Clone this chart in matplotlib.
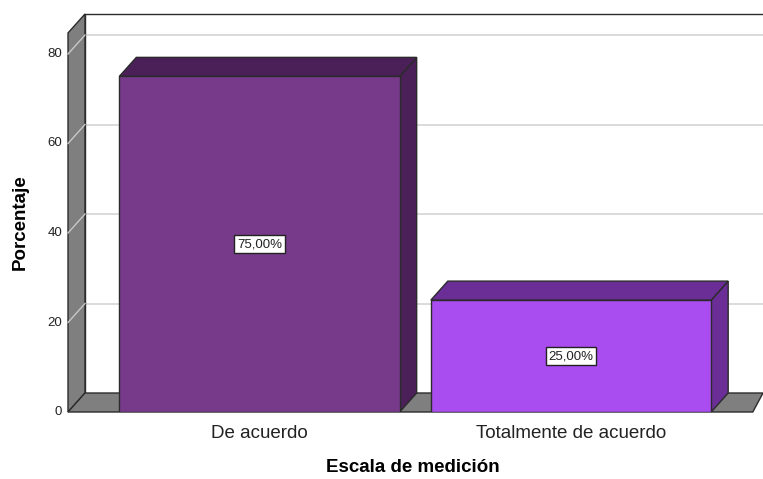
import matplotlib.pyplot as plt
from matplotlib.patches import Polygon

# datos
categorias = ["De acuerdo", "Totalmente de acuerdo"]
porcentajes = [75.0, 25.0]
etiquetas = ["75,00%", "25,00%"]
yticks = [0, 20, 40, 60, 80]
color_frente = ["#773a8a", "#a94cf0"]
color_lado = ["#4b2058", "#6b2d96"]

plt.rcParams['font.family'] = ['Liberation Sans', 'DejaVu Sans']

W, H = 763, 479
fig = plt.figure(figsize=(W / 100, H / 100), dpi=100)

# plano frontal en pixeles
x0px, x1px = 68, 763
y0px, y1px = 412, 15
ax = fig.add_axes([x0px / W, (H - y0px) / H, (x1px - x0px) / W, (y0px - y1px) / H])

px_x = 311.5          # pixeles por categoria
px_y = 89.5 / 20      # pixeles por punto porcentual
xmin = (x0px - 259.5) / px_x
xmax = (x1px - 259.5) / px_x
ax.set_xlim(xmin, xmax)
ax.set_ylim(0, (y0px - y1px) / px_y)
ax.axis('off')

dx = 17 / px_x
dy = 19 / px_y
techo = 84.7
borde = '#2b2b2b'

# pared del fondo
ax.plot([xmin + dx, xmin + dx, xmax + 0.1], [dy, techo + dy, techo + dy],
        color=borde, lw=1.0, clip_on=False, zorder=2)
for t in yticks[1:]:
    ax.plot([xmin + dx, xmax + 0.1], [t + dy, t + dy], color='#d4d4d4', lw=1.2,
            clip_on=False, zorder=1)

# pared izquierda
pared = Polygon([(xmin, 0), (xmin, techo), (xmin + dx, techo + dy), (xmin + dx, dy)],
                closed=True, fc='#7f7f7f', ec=borde, lw=1.0, clip_on=False, zorder=3)
ax.add_patch(pared)
for t in yticks[1:]:
    ax.plot([xmin, xmin + dx], [t, t + dy], color='#c8c8c8', lw=1.0,
            clip_on=False, zorder=4)

# piso
piso = Polygon([(xmin, 0), (xmin + dx, dy), (xmax, dy), (xmax - dx * 0.6, 0)],
               closed=True, fc='#7f7f7f', ec=borde, lw=1.0, clip_on=False, zorder=3)
ax.add_patch(piso)

# ticks
for t in yticks:
    ax.text(xmin - 6 / px_x, t, str(t), ha='right', va='center', fontsize=9.5, color='#222222')

# barras 3D
ancho = 0.9
for i, v in enumerate(porcentajes):
    a, b = i - ancho / 2, i + ancho / 2
    frente = Polygon([(a, 0), (a, v), (b, v), (b, 0)], closed=True,
                     fc=color_frente[i], ec=borde, lw=1.0, zorder=6)
    arriba = Polygon([(a, v), (a + dx, v + dy), (b + dx, v + dy), (b, v)], closed=True,
                     fc=color_lado[i], ec=borde, lw=1.0, zorder=5)
    lado = Polygon([(b, 0), (b, v), (b + dx, v + dy), (b + dx, dy)], closed=True,
                   fc=color_lado[i], ec=borde, lw=1.0, zorder=5)
    for p in (lado, arriba, frente):
        ax.add_patch(p)
    ax.text(i, v / 2, etiquetas[i], ha='center', va='center', fontsize=9.5, zorder=7,
            color='#222222',
            bbox=dict(boxstyle='square,pad=0.22', fc='white', ec='#222222', lw=1.0))
    ax.text(i, -21 / px_y, categorias[i], ha='center', va='center', fontsize=13.5,
            color='#222222')

fig.text(20 / W, 1 - 222 / H, "Porcentaje", rotation=90, ha='center', va='center',
         fontsize=13.5, fontweight='bold')
fig.text(413 / W, 1 - 468 / H, "Escala de medición", ha='center', va='center',
         fontsize=13.5, fontweight='bold')

fig.savefig('out.png', dpi=100)
